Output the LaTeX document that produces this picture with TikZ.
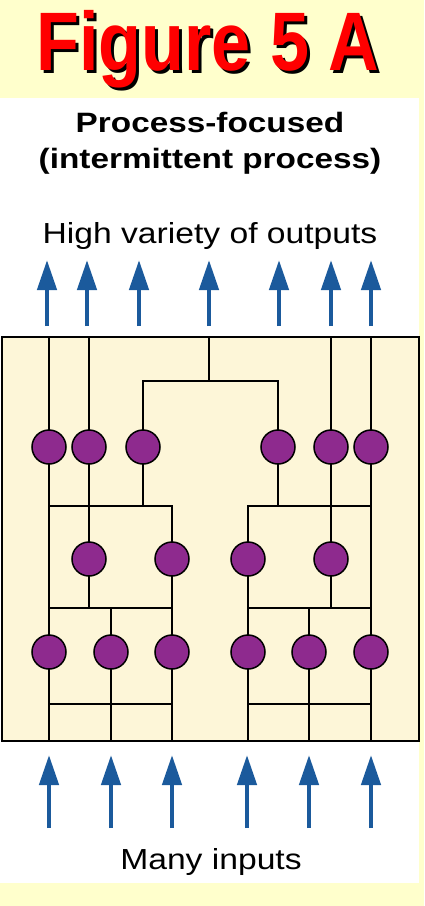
\documentclass[tikz,border=0pt]{standalone}
\usepackage{fontspec}
\setmainfont{Liberation Sans}
\usetikzlibrary{arrows.meta}
\definecolor{paleyellow}{HTML}{FFFFCC}
\definecolor{boxcream}{HTML}{FDF6D8}
\definecolor{stationpurple}{HTML}{8E2A8E}
\definecolor{flowblue}{HTML}{1B5A9C}
\tikzset{stn/.style = {circle, draw=black, fill=stationpurple, line width=1.5pt, inner sep=0, minimum size=34pt}}
\tikzset{wire/.style = {line width=2pt, line cap=rect}}
\tikzset{flow/.style = {draw=flowblue, line width=4.5pt, -{Triangle[length=30pt, width=19pt]}}}
\tikzset{
  every picture/.style={x=1pt, y=-1pt}
}

\begin{document}
\begin{tikzpicture}
      % page and panels
      \fill[paleyellow] (0,0) rectangle (424,906);
      \fill[white] (0,98) rectangle (419,883);
      \useasboundingbox (0,0) rectangle (424,906);

      % headings
      \node[anchor=base, text=black, font=\bfseries\fontsize{83}{83}\selectfont] (shadow) at (211,73) {\scalebox{0.845}[1]{Figure 5 A}};
      \node[anchor=base, text=red, font=\bfseries\fontsize{83}{83}\selectfont] (title) at (208,70) {\scalebox{0.845}[1]{Figure 5 A}};
      \node[anchor=base, font=\bfseries\fontsize{28}{28}\selectfont] (head1) at (210,132) {\scalebox{1.19}[1]{Process-focused}};
      \node[anchor=base, font=\bfseries\fontsize{28}{28}\selectfont] (head2) at (210,168) {\scalebox{1.19}[1]{(intermittent process)}};
      \node[anchor=base, font=\fontsize{29}{29}\selectfont] (outputs) at (210,243) {\scalebox{1.16}[1]{High variety of outputs}};
      \node[anchor=base, font=\fontsize{29}{29}\selectfont] (inputs) at (211,869) {\scalebox{1.16}[1]{Many inputs}};

      % the shop
      \draw[fill=boxcream, line width=2.5pt] (2,337) rectangle (419,741);

      \node[stn] (t1) at (49,447) {};
      \node[stn] (t2) at (89,447) {};
      \node[stn] (t3) at (143,447) {};
      \node[stn] (t4) at (278,447) {};
      \node[stn] (t5) at (331,447) {};
      \node[stn] (t6) at (371,447) {};
      \node[stn] (m1) at (89,559) {};
      \node[stn] (m2) at (172,559) {};
      \node[stn] (m3) at (248,559) {};
      \node[stn] (m4) at (331,559) {};
      \node[stn] (b1) at (49,652) {};
      \node[stn] (b2) at (111,652) {};
      \node[stn] (b3) at (172,652) {};
      \node[stn] (b4) at (248,652) {};
      \node[stn] (b5) at (309,652) {};
      \node[stn] (b6) at (371,652) {};

      \coordinate (o1) at (49,337);
      \coordinate (o2) at (89,337);
      \coordinate (o3) at (209,337);
      \coordinate (o4) at (331,337);
      \coordinate (o5) at (371,337);
      \coordinate (i1) at (49,741);
      \coordinate (i2) at (111,741);
      \coordinate (i3) at (172,741);
      \coordinate (i4) at (248,741);
      \coordinate (i5) at (309,741);
      \coordinate (i6) at (371,741);
      \coordinate (splitL) at (143,381);
      \coordinate (splitM) at (209,381);
      \coordinate (splitR) at (278,381);
      \coordinate (joinL1) at (49,506);
      \coordinate (joinL2) at (143,506);
      \coordinate (joinL3) at (172,506);
      \coordinate (joinR1) at (248,506);
      \coordinate (joinR2) at (278,506);
      \coordinate (joinR3) at (371,506);
      \coordinate (midL1) at (49,608);
      \coordinate (midL2) at (89,608);
      \coordinate (midL3) at (111,608);
      \coordinate (midL4) at (172,608);
      \coordinate (midR1) at (248,608);
      \coordinate (midR2) at (309,608);
      \coordinate (midR3) at (331,608);
      \coordinate (midR4) at (371,608);
      \coordinate (lowL1) at (49,704);
      \coordinate (lowL2) at (172,704);
      \coordinate (lowR1) at (248,704);
      \coordinate (lowR2) at (371,704);

      \draw[wire] (o1) -- (t1);
      \draw[wire] (t1) -- (b1);
      \draw[wire] (b1) -- (i1);
      \draw[wire] (o2) -- (t2);
      \draw[wire] (t2) -- (m1);
      \draw[wire] (m1) -- (midL2);
      \draw[wire] (o3) -- (splitM);
      \draw[wire] (splitL) -- (splitR);
      \draw[wire] (splitL) -- (t3);
      \draw[wire] (t3) -- (joinL2);
      \draw[wire] (splitR) -- (t4);
      \draw[wire] (t4) -- (joinR2);
      \draw[wire] (o4) -- (t5);
      \draw[wire] (t5) -- (m4);
      \draw[wire] (m4) -- (midR3);
      \draw[wire] (o5) -- (t6);
      \draw[wire] (t6) -- (b6);
      \draw[wire] (b6) -- (i6);
      \draw[wire] (joinL1) -- (joinL3);
      \draw[wire] (joinR1) -- (joinR3);
      \draw[wire] (joinL3) -- (m2);
      \draw[wire] (m2) -- (b3);
      \draw[wire] (b3) -- (i3);
      \draw[wire] (joinR1) -- (m3);
      \draw[wire] (m3) -- (b4);
      \draw[wire] (b4) -- (i4);
      \draw[wire] (midL1) -- (midL4);
      \draw[wire] (midR1) -- (midR4);
      \draw[wire] (midL3) -- (b2);
      \draw[wire] (b2) -- (i2);
      \draw[wire] (midR2) -- (b5);
      \draw[wire] (b5) -- (i5);
      \draw[wire] (lowL1) -- (lowL2);
      \draw[wire] (lowR1) -- (lowR2);

      % outputs
      \coordinate (up1) at (47,326);  \coordinate (top1) at (47,260);
      \coordinate (up2) at (87,326);  \coordinate (top2) at (87,260);
      \coordinate (up3) at (139,326); \coordinate (top3) at (139,260);
      \coordinate (up4) at (209,326); \coordinate (top4) at (209,260);
      \coordinate (up5) at (279,326); \coordinate (top5) at (279,260);
      \coordinate (up6) at (331,326); \coordinate (top6) at (331,260);
      \coordinate (up7) at (371,326); \coordinate (top7) at (371,260);
      \draw[flow] (up1) -- (top1);
      \draw[flow] (up2) -- (top2);
      \draw[flow] (up3) -- (top3);
      \draw[flow] (up4) -- (top4);
      \draw[flow] (up5) -- (top5);
      \draw[flow] (up6) -- (top6);
      \draw[flow] (up7) -- (top7);

      % inputs
      \coordinate (in1) at (49,828);  \coordinate (enter1) at (49,755);
      \coordinate (in2) at (111,828); \coordinate (enter2) at (111,755);
      \coordinate (in3) at (172,828); \coordinate (enter3) at (172,755);
      \coordinate (in4) at (247,828); \coordinate (enter4) at (247,755);
      \coordinate (in5) at (309,828); \coordinate (enter5) at (309,755);
      \coordinate (in6) at (371,828); \coordinate (enter6) at (371,755);
      \draw[flow] (in1) -- (enter1);
      \draw[flow] (in2) -- (enter2);
      \draw[flow] (in3) -- (enter3);
      \draw[flow] (in4) -- (enter4);
      \draw[flow] (in5) -- (enter5);
      \draw[flow] (in6) -- (enter6);
    \end{tikzpicture}
\end{document}
